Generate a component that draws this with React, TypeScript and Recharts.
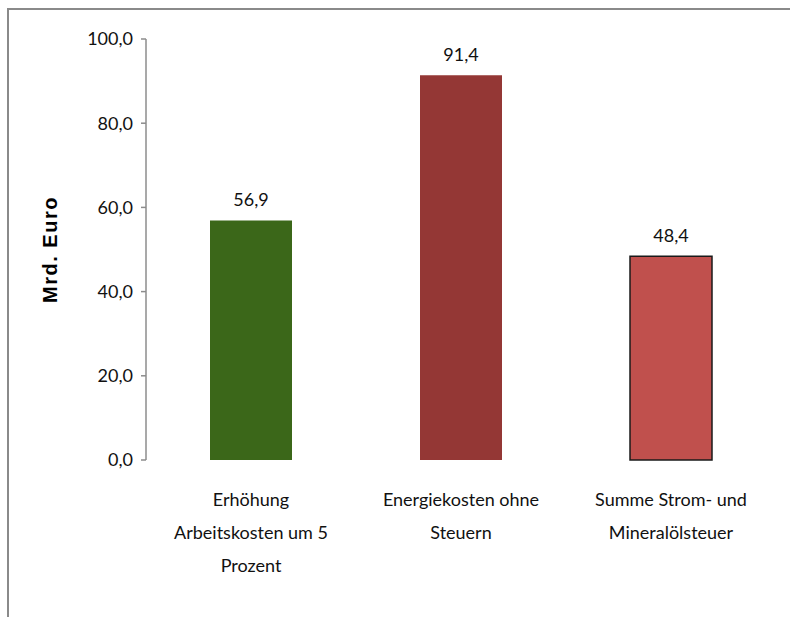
import React from 'react';
import { BarChart, Bar, XAxis, YAxis, Cell, LabelList, Label } from 'recharts';

const categories = ['Erhöhung Arbeitskosten um 5 Prozent', 'Energiekosten ohne Steuern', 'Summe Strom- und Mineralölsteuer'];
const categoryLines = [
  ['Erhöhung', 'Arbeitskosten um 5', 'Prozent'],
  ['Energiekosten ohne', 'Steuern'],
  ['Summe Strom- und', 'Mineralölsteuer'],
];
const values = [56.9, 91.4, 48.4];
const barColors = ['#3b6719', '#943735', '#c0504d'];
const barStrokes = ['none', 'none', '#1a1a1a'];
const yTicks = [0, 20, 40, 60, 80, 100];
const boundaryTicks = [0, 1, 2, 3];
const yAxisTitle = 'Mrd. Euro';

const data = categories.map((c, i) => ({ name: c, idx: i, value: values[i] }));

const FONT = 'Lato, "Open Sans", sans-serif';
const TEXT = '#111';
const fmt = (v: number) => v.toFixed(1).replace('.', ',');

const CatTick = (props: any) => {
  const { x, y, payload } = props;
  const lines = categoryLines[payload.index] || [String(payload.value)];
  return (
    <g>
      {lines.map((l, i) => (
        <text key={i} x={x} y={y + 38 + i * 33} textAnchor="middle" fontSize={18} fontFamily={FONT} fill={TEXT}>
          {l}
        </text>
      ))}
    </g>
  );
};

const YTitle = (props: any) => {
  const vb = props.viewBox || {};
  const cx = vb.x - 36;
  const cy = vb.y + vb.height / 2;
  return (
    <text x={cx} y={cy} transform={`rotate(-90 ${cx} ${cy})`} textAnchor="middle" dominantBaseline="central"
      fontSize={20} fontWeight="bold" letterSpacing={1.5} fontFamily='"Liberation Sans", Arial, sans-serif' fill="#000">
      {yAxisTitle}
    </text>
  );
};

export default function App() {
  return (
    <div style={{ position: 'absolute', left: 0, top: 0, width: 790, height: 617, overflow: 'hidden', background: '#fff' }}>
      <div style={{ position: 'absolute', left: 7, top: 8, width: 900, height: 800, border: '2px solid #8a8a8a' }} />
      <div style={{ position: 'absolute', left: 0, top: 0 }}>
        <BarChart width={790} height={617} data={data} margin={{ top: 39, right: 14, bottom: 37, left: 86 }}>
          <XAxis xAxisId="b" type="number" dataKey="idx" domain={[0, 3]} ticks={boundaryTicks} height={0} tick={false}
            axisLine={{ stroke: '#8c8c8c', strokeWidth: 1.5 }} tickLine={{ stroke: '#8c8c8c', strokeWidth: 1.5 }} tickSize={10} />
          <XAxis dataKey="name" interval={0} height={120} axisLine={false} tickLine={false} tick={<CatTick />} />
          <YAxis domain={[0, 100]} ticks={yTicks} width={60} tickFormatter={fmt} tickSize={5} tickMargin={8}
            axisLine={{ stroke: '#8c8c8c', strokeWidth: 1.5 }} tickLine={{ stroke: '#8c8c8c', strokeWidth: 1.5 }}
            tick={{ fontSize: 18, fontFamily: FONT, fill: TEXT }}>
            <Label content={<YTitle />} />
          </YAxis>
          <Bar dataKey="value" barSize={82} isAnimationActive={false}>
            {data.map((d, i) => (
              <Cell key={i} fill={barColors[i]} stroke={barStrokes[i]} strokeWidth={1.5} />
            ))}
            <LabelList dataKey="value" position="top" offset={14} formatter={(v: any) => fmt(Number(v))}
              style={{ fontSize: 18, fontFamily: FONT, fill: TEXT }} />
          </Bar>
        </BarChart>
      </div>
    </div>
  );
}
